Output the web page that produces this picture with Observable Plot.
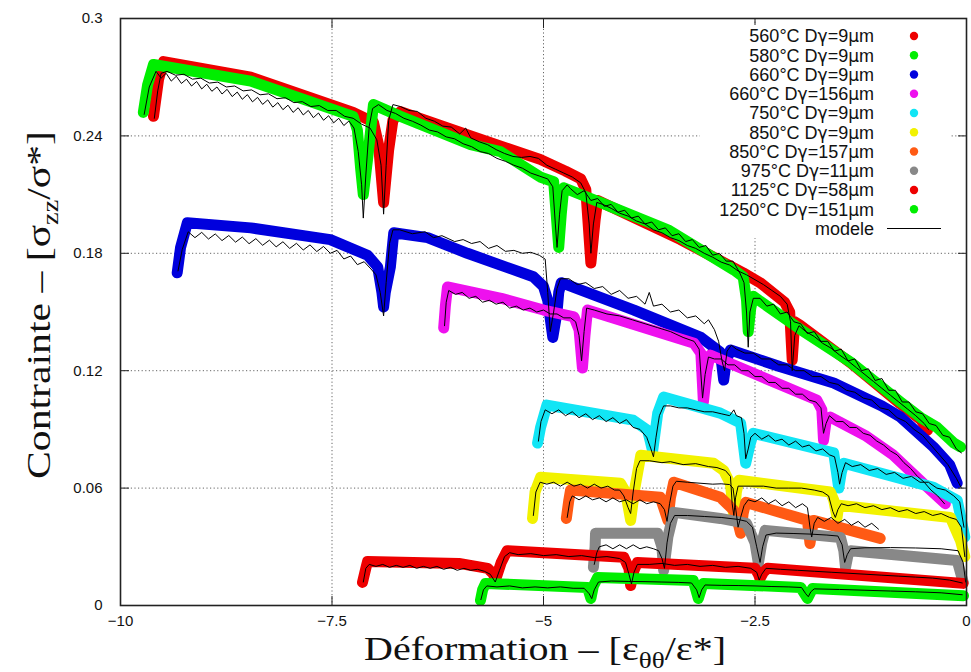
<!DOCTYPE html>
<html><head><meta charset="utf-8">
<script src="https://cdn.jsdelivr.net/npm/d3@7"></script>
<script src="https://cdn.jsdelivr.net/npm/@observablehq/plot@0.6"></script>
<style>body{margin:0;background:#fff}#chart{width:971px;height:672px}</style>
</head><body><div id="chart"></div>
<script>
const names = ["560°C Dγ=9μm","580°C Dγ=9μm","660°C Dγ=9μm","660°C Dγ=156μm","750°C Dγ=9μm","850°C Dγ=9μm","850°C Dγ=157μm","975°C Dγ=11μm","1125°C Dγ=58μm","1250°C Dγ=151μm"];
const colors = ["#ee0000","#00ee00","#0000dd","#ee11ee","#11e5f5","#f2f200","#ff5a14","#888888","#ee0000","#00ee00"];
const modelName = "modele";
const xTicks = [-10,-7.5,-5,-2.5,0];
const yTicks = [0,0.06,0.12,0.18,0.24,0.3];

// experimental series [strain, stress]
const exp560 = [[-9.61,0.250],[-9.55,0.269],[-9.49,0.278],[-8.46,0.270],[-7.25,0.252],[-7.01,0.247],[-6.95,0.2355],[-6.89,0.206],[-6.83,0.233],[-6.78,0.248],[-6.69,0.2524],[-5.86,0.240],[-5.04,0.228],[-4.74,0.222],[-4.56,0.218],[-4.50,0.2125],[-4.44,0.175],[-4.39,0.197],[-4.36,0.207],[-3.38,0.187],[-2.64,0.170],[-2.44,0.165],[-2.15,0.155],[-2.09,0.150],[-2.06,0.1255],[-2.03,0.145],[-1.96,0.143],[-1.37,0.124],[-0.78,0.103],[-0.54,0.095],[-0.46,0.0896]];
const exp580 = [[-9.73,0.252],[-9.68,0.266],[-9.61,0.2765],[-8.46,0.268],[-7.25,0.250],[-7.20,0.243],[-7.16,0.2227],[-7.13,0.210],[-7.08,0.228],[-7.01,0.256],[-6.69,0.250],[-5.86,0.2355],[-5.51,0.232],[-5.04,0.219],[-4.88,0.2166],[-4.85,0.200],[-4.82,0.183],[-4.79,0.200],[-4.76,0.2135],[-4.33,0.206],[-3.53,0.192],[-2.75,0.1715],[-2.64,0.168],[-2.60,0.156],[-2.58,0.140],[-2.55,0.152],[-2.52,0.158],[-1.96,0.141],[-1.37,0.1244],[-0.78,0.104],[-0.54,0.096],[-0.35,0.0911],[-0.15,0.083],[-0.07,0.081]];
const exp660a = [[-9.33,0.170],[-9.29,0.183],[-9.21,0.1956],[-8.46,0.193],[-7.52,0.187],[-7.08,0.179],[-6.96,0.173],[-6.91,0.160],[-6.89,0.1526],[-6.87,0.160],[-6.81,0.173],[-6.77,0.1905],[-6.37,0.188],[-5.90,0.180],[-5.12,0.168],[-5.00,0.163],[-4.95,0.156],[-4.89,0.137],[-4.84,0.150],[-4.82,0.160],[-4.79,0.165],[-3.93,0.151],[-3.14,0.137],[-2.91,0.1295],[-2.87,0.1152],[-2.84,0.125],[-2.79,0.1306],[-2.20,0.122],[-1.57,0.1137],[-1.00,0.102],[-0.78,0.0963],[-0.39,0.081],[-0.20,0.072],[-0.11,0.0625]];
const exp660b = [[-6.18,0.1418],[-6.16,0.153],[-6.135,0.1628],[-5.50,0.157],[-5.00,0.151],[-4.64,0.1475],[-4.58,0.141],[-4.54,0.1214],[-4.51,0.138],[-4.48,0.151],[-3.22,0.134],[-3.14,0.129],[-3.11,0.104],[-3.07,0.120],[-3.03,0.128],[-2.35,0.1156],[-1.77,0.105],[-1.71,0.100],[-1.69,0.0845],[-1.66,0.094],[-1.61,0.0963],[-1.20,0.087],[-0.87,0.077],[-0.50,0.062],[-0.25,0.052]];
const exp750 = [[-5.07,0.083],[-5.035,0.091],[-4.96,0.1024],[-3.94,0.0947],[-3.77,0.0896],[-3.71,0.079],[-3.65,0.0983],[-3.58,0.1065],[-2.91,0.0983],[-2.67,0.0932],[-2.61,0.0727],[-2.56,0.082],[-2.52,0.088],[-1.57,0.078],[-1.51,0.060],[-1.48,0.068],[-1.45,0.0727],[-0.39,0.0604],[-0.11,0.0538],[-0.02,0.035]];
const exp850a = [[-5.13,0.0445],[-5.10,0.058],[-5.035,0.0655],[-4.09,0.0625],[-4.03,0.058],[-3.97,0.0435],[-3.92,0.060],[-3.85,0.0768],[-2.99,0.0727],[-2.87,0.069],[-2.79,0.062],[-2.75,0.045],[-2.72,0.058],[-2.69,0.064],[-1.61,0.058],[-1.57,0.054],[-1.53,0.045],[-1.51,0.0512],[-0.19,0.045],[-0.07,0.033],[-0.02,0.025]];
const exp850b = [[-4.73,0.0445],[-4.70,0.054],[-4.68,0.059],[-3.62,0.0553],[-3.58,0.050],[-3.53,0.0435],[-3.50,0.055],[-3.46,0.063],[-2.91,0.0553],[-2.75,0.0486],[-2.71,0.044],[-2.67,0.0369],[-2.64,0.047],[-2.61,0.0527],[-1.88,0.0435],[-1.85,0.0317],[-1.81,0.0435],[-1.02,0.0343]];
const exp975 = [[-4.41,0.0195],[-4.39,0.030],[-4.385,0.0369],[-3.65,0.0369],[-3.60,0.030],[-3.58,0.018],[-3.53,0.035],[-3.46,0.0476],[-2.91,0.0445],[-2.60,0.042],[-2.50,0.032],[-2.46,0.0215],[-2.42,0.032],[-2.38,0.0384],[-1.49,0.0348],[-1.45,0.028],[-1.43,0.0195],[-1.40,0.026],[-1.37,0.028],[-0.11,0.023],[-0.04,0.012]];
const exp1125 = [[-7.14,0.0118],[-7.10,0.019],[-7.08,0.0225],[-6.00,0.0215],[-5.66,0.019],[-5.59,0.016],[-5.57,0.0128],[-5.50,0.022],[-5.43,0.028],[-4.05,0.0246],[-3.99,0.019],[-3.97,0.0102],[-3.93,0.018],[-3.89,0.022],[-2.50,0.019],[-2.46,0.016],[-2.44,0.0138],[-2.40,0.017],[-2.35,0.019],[-0.04,0.0113]];
const exp1250 = [[-5.745,0.0026],[-5.72,0.008],[-5.686,0.0113],[-4.48,0.0092],[-4.44,0.0036],[-4.41,0.010],[-4.36,0.0143],[-3.23,0.0128],[-3.17,0.0036],[-3.13,0.009],[-3.11,0.0113],[-1.96,0.0092],[-1.88,0.0036],[-1.82,0.0087],[-0.035,0.005]];

// model curves
const mod560 = [[-9.60,0.249],[-9.56,0.263],[-9.52,0.272],[-9.45,0.273],[-9.35,0.271],[-9.25,0.2715],[-9.15,0.269],[-9.05,0.2695],[-8.95,0.267],[-8.85,0.2675],[-8.75,0.265],[-8.65,0.2655],[-8.55,0.263],[-8.45,0.2635],[-8.35,0.261],[-8.25,0.2615],[-8.15,0.259],[-8.05,0.2595],[-7.95,0.257],[-7.85,0.2575],[-7.75,0.255],[-7.65,0.2555],[-7.55,0.253],[-7.45,0.253],[-7.35,0.250],[-7.25,0.249],[-7.15,0.246],[-7.05,0.244],[-6.97,0.238],[-6.92,0.225],[-6.89,0.200],[-6.86,0.225],[-6.83,0.248],[-6.78,0.256],[-6.69,0.255],[-6.59,0.253],[-6.49,0.2525],[-6.39,0.249],[-6.29,0.2475],[-6.19,0.245],[-6.09,0.2445],[-5.99,0.241],[-5.92,0.244],[-5.86,0.239],[-5.76,0.237],[-5.66,0.2355],[-5.56,0.233],[-5.46,0.231],[-5.36,0.2295],[-5.26,0.229],[-5.16,0.2295],[-5.06,0.2285],[-4.96,0.225],[-4.86,0.223],[-4.76,0.221],[-4.66,0.219],[-4.56,0.216],[-4.50,0.211],[-4.46,0.195],[-4.44,0.180],[-4.41,0.195],[-4.37,0.206],[-4.30,0.205],[-4.20,0.203],[-4.10,0.2005],[-4.00,0.199],[-3.90,0.1965],[-3.80,0.195],[-3.70,0.192],[-3.60,0.1905],[-3.50,0.188],[-3.40,0.1865],[-3.30,0.184],[-3.20,0.1825],[-3.10,0.180],[-3.00,0.178],[-2.90,0.1755],[-2.80,0.174],[-2.70,0.171],[-2.60,0.169],[-2.50,0.1665],[-2.40,0.164],[-2.30,0.161],[-2.20,0.158],[-2.12,0.154],[-2.08,0.145],[-2.06,0.120],[-2.03,0.138],[-1.98,0.143],[-1.90,0.140],[-1.80,0.1375],[-1.70,0.134],[-1.60,0.1315],[-1.50,0.128],[-1.40,0.125],[-1.30,0.1215],[-1.20,0.118],[-1.10,0.1145],[-1.00,0.111],[-0.90,0.1075],[-0.80,0.104],[-0.70,0.1005],[-0.60,0.097],[-0.50,0.093],[-0.45,0.090]];
const mod580 = [[-9.72,0.251],[-9.66,0.265],[-9.58,0.273],[-9.52,0.2695],[-9.46,0.272],[-9.40,0.268],[-9.34,0.2705],[-9.28,0.2668],[-9.22,0.269],[-9.16,0.2655],[-9.10,0.2678],[-9.04,0.264],[-8.98,0.2664],[-8.92,0.2628],[-8.86,0.265],[-8.80,0.2614],[-8.74,0.2638],[-8.68,0.2601],[-8.62,0.2624],[-8.56,0.2587],[-8.50,0.2611],[-8.44,0.2574],[-8.38,0.2597],[-8.32,0.2561],[-8.26,0.2584],[-8.20,0.2547],[-8.14,0.257],[-8.08,0.2534],[-8.02,0.2557],[-7.96,0.252],[-7.90,0.2544],[-7.84,0.2507],[-7.78,0.253],[-7.72,0.2493],[-7.66,0.2517],[-7.60,0.248],[-7.54,0.2503],[-7.48,0.2467],[-7.42,0.249],[-7.36,0.2453],[-7.30,0.2476],[-7.24,0.244],[-7.19,0.232],[-7.15,0.215],[-7.13,0.198],[-7.10,0.220],[-7.06,0.245],[-7.02,0.254],[-6.95,0.256],[-6.85,0.253],[-6.75,0.2515],[-6.65,0.249],[-6.55,0.2475],[-6.45,0.2455],[-6.35,0.243],[-6.25,0.242],[-6.15,0.2395],[-6.05,0.2385],[-5.95,0.236],[-5.85,0.2345],[-5.75,0.232],[-5.65,0.231],[-5.55,0.2285],[-5.45,0.227],[-5.35,0.225],[-5.25,0.2235],[-5.15,0.221],[-5.05,0.2195],[-4.95,0.218],[-4.89,0.214],[-4.86,0.195],[-4.84,0.183],[-4.81,0.200],[-4.78,0.212],[-4.72,0.215],[-4.68,0.213],[-4.60,0.210],[-4.52,0.212],[-4.44,0.207],[-4.36,0.208],[-4.28,0.204],[-4.20,0.205],[-4.12,0.201],[-4.04,0.202],[-3.96,0.198],[-3.88,0.199],[-3.80,0.195],[-3.72,0.196],[-3.64,0.192],[-3.56,0.193],[-3.48,0.189],[-3.40,0.190],[-3.32,0.186],[-3.24,0.187],[-3.16,0.183],[-3.08,0.184],[-3.00,0.179],[-2.92,0.180],[-2.84,0.176],[-2.76,0.176],[-2.68,0.170],[-2.63,0.165],[-2.60,0.150],[-2.58,0.132],[-2.56,0.150],[-2.52,0.157],[-2.44,0.157],[-2.36,0.153],[-2.28,0.154],[-2.20,0.149],[-2.12,0.150],[-2.04,0.145],[-1.96,0.144],[-1.88,0.139],[-1.80,0.140],[-1.72,0.135],[-1.64,0.135],[-1.56,0.130],[-1.48,0.131],[-1.40,0.125],[-1.32,0.126],[-1.24,0.120],[-1.16,0.121],[-1.08,0.115],[-1.00,0.116],[-0.92,0.110],[-0.84,0.110],[-0.76,0.104],[-0.68,0.104],[-0.60,0.099],[-0.52,0.098],[-0.44,0.093],[-0.36,0.092],[-0.28,0.087],[-0.20,0.086],[-0.12,0.080],[-0.06,0.078]];
const mod660a = [[-9.32,0.171],[-9.27,0.182],[-9.20,0.191],[-9.12,0.188],[-9.04,0.1907],[-8.96,0.1873],[-8.88,0.1899],[-8.80,0.1865],[-8.72,0.1891],[-8.64,0.1857],[-8.56,0.1883],[-8.48,0.1849],[-8.40,0.1875],[-8.32,0.1841],[-8.24,0.1867],[-8.16,0.1833],[-8.08,0.1859],[-8.00,0.1825],[-7.92,0.1851],[-7.84,0.1817],[-7.76,0.1843],[-7.68,0.1809],[-7.60,0.1835],[-7.52,0.180],[-7.44,0.1815],[-7.36,0.1771],[-7.28,0.1786],[-7.20,0.1742],[-7.12,0.1757],[-7.04,0.172],[-6.98,0.169],[-6.93,0.160],[-6.89,0.148],[-6.86,0.165],[-6.82,0.185],[-6.78,0.192],[-6.70,0.192],[-6.55,0.190],[-6.40,0.191],[-6.30,0.188],[-6.20,0.189],[-6.05,0.186],[-5.95,0.187],[-5.85,0.185],[-5.75,0.186],[-5.65,0.1825],[-5.55,0.184],[-5.45,0.181],[-5.35,0.1815],[-5.25,0.180],[-5.15,0.1805],[-5.05,0.179],[-4.98,0.177],[-4.95,0.160],[-4.92,0.140],[-4.88,0.150],[-4.84,0.162],[-4.80,0.167],[-4.70,0.167],[-4.60,0.164],[-4.50,0.165],[-4.40,0.162],[-4.30,0.163],[-4.20,0.159],[-4.10,0.161],[-4.00,0.157],[-3.90,0.158],[-3.80,0.154],[-3.75,0.160],[-3.70,0.153],[-3.60,0.154],[-3.50,0.150],[-3.40,0.151],[-3.30,0.147],[-3.20,0.148],[-3.10,0.144],[-3.05,0.146],[-2.98,0.141],[-2.93,0.135],[-2.89,0.125],[-2.86,0.120],[-2.83,0.130],[-2.78,0.133],[-2.72,0.131],[-2.62,0.129],[-2.52,0.129],[-2.42,0.126],[-2.32,0.126],[-2.22,0.123],[-2.12,0.123],[-2.02,0.120],[-1.92,0.120],[-1.82,0.117],[-1.72,0.117],[-1.62,0.114],[-1.52,0.113],[-1.42,0.110],[-1.32,0.109],[-1.22,0.106],[-1.12,0.105],[-1.02,0.101],[-0.92,0.100],[-0.82,0.096],[-0.72,0.094],[-0.62,0.090],[-0.52,0.087],[-0.42,0.082],[-0.32,0.077],[-0.22,0.072],[-0.12,0.065],[-0.06,0.060]];
const mod660b = [[-6.17,0.143],[-6.15,0.155],[-6.12,0.161],[-6.04,0.159],[-5.96,0.160],[-5.88,0.157],[-5.80,0.158],[-5.72,0.155],[-5.64,0.156],[-5.56,0.154],[-5.48,0.155],[-5.40,0.152],[-5.32,0.153],[-5.24,0.151],[-5.16,0.152],[-5.08,0.150],[-5.00,0.151],[-4.92,0.149],[-4.84,0.149],[-4.76,0.147],[-4.68,0.147],[-4.62,0.145],[-4.58,0.138],[-4.55,0.125],[-4.52,0.140],[-4.49,0.152],[-4.40,0.151],[-4.25,0.149],[-4.10,0.148],[-3.95,0.146],[-3.80,0.144],[-3.65,0.142],[-3.50,0.140],[-3.35,0.137],[-3.22,0.135],[-3.16,0.131],[-3.12,0.106],[-3.09,0.118],[-3.05,0.127],[-2.98,0.126],[-2.90,0.126],[-2.82,0.123],[-2.74,0.123],[-2.66,0.120],[-2.58,0.120],[-2.50,0.117],[-2.42,0.117],[-2.34,0.114],[-2.26,0.114],[-2.18,0.111],[-2.10,0.111],[-2.02,0.108],[-1.94,0.108],[-1.86,0.105],[-1.78,0.104],[-1.72,0.101],[-1.69,0.088],[-1.66,0.093],[-1.62,0.097],[-1.54,0.094],[-1.46,0.094],[-1.38,0.091],[-1.30,0.091],[-1.22,0.088],[-1.14,0.087],[-1.06,0.084],[-0.98,0.082],[-0.90,0.079],[-0.82,0.077],[-0.74,0.073],[-0.66,0.070],[-0.58,0.066],[-0.50,0.063],[-0.42,0.059],[-0.34,0.056],[-0.26,0.052]];
const mod750 = [[-5.06,0.084],[-5.03,0.094],[-4.98,0.100],[-4.90,0.098],[-4.82,0.100],[-4.74,0.097],[-4.66,0.099],[-4.58,0.096],[-4.50,0.098],[-4.42,0.095],[-4.34,0.097],[-4.26,0.094],[-4.18,0.096],[-4.10,0.093],[-4.02,0.095],[-3.94,0.091],[-3.86,0.090],[-3.78,0.086],[-3.73,0.080],[-3.70,0.076],[-3.67,0.086],[-3.63,0.097],[-3.58,0.102],[-3.50,0.102],[-3.40,0.101],[-3.30,0.101],[-3.20,0.100],[-3.10,0.099],[-3.00,0.099],[-2.90,0.098],[-2.80,0.097],[-2.75,0.100],[-2.72,0.097],[-2.66,0.096],[-2.63,0.088],[-2.61,0.075],[-2.58,0.080],[-2.55,0.086],[-2.50,0.088],[-2.42,0.085],[-2.34,0.087],[-2.26,0.084],[-2.18,0.085],[-2.10,0.082],[-2.02,0.084],[-1.94,0.081],[-1.86,0.082],[-1.78,0.079],[-1.70,0.080],[-1.62,0.077],[-1.56,0.076],[-1.52,0.068],[-1.50,0.062],[-1.47,0.068],[-1.43,0.073],[-1.35,0.071],[-1.25,0.072],[-1.15,0.069],[-1.05,0.070],[-0.95,0.067],[-0.85,0.068],[-0.75,0.065],[-0.65,0.066],[-0.55,0.063],[-0.45,0.063],[-0.35,0.060],[-0.25,0.059],[-0.15,0.056],[-0.08,0.053],[-0.03,0.040]];
const mod850a = [[-5.12,0.046],[-5.09,0.058],[-5.04,0.063],[-4.96,0.062],[-4.88,0.063],[-4.80,0.061],[-4.72,0.063],[-4.64,0.061],[-4.56,0.062],[-4.48,0.060],[-4.40,0.062],[-4.32,0.060],[-4.24,0.061],[-4.16,0.059],[-4.10,0.059],[-4.05,0.056],[-4.00,0.050],[-3.97,0.047],[-3.94,0.058],[-3.90,0.070],[-3.86,0.074],[-3.75,0.074],[-3.60,0.073],[-3.50,0.0735],[-3.35,0.072],[-3.20,0.0725],[-3.05,0.071],[-2.95,0.0705],[-2.85,0.069],[-2.79,0.066],[-2.77,0.052],[-2.75,0.046],[-2.73,0.055],[-2.70,0.061],[-2.55,0.061],[-2.40,0.061],[-2.25,0.060],[-2.10,0.060],[-1.95,0.060],[-1.80,0.059],[-1.70,0.058],[-1.63,0.056],[-1.58,0.048],[-1.55,0.045],[-1.52,0.049],[-1.48,0.052],[-1.40,0.051],[-1.30,0.052],[-1.20,0.050],[-1.10,0.051],[-1.00,0.049],[-0.90,0.050],[-0.80,0.048],[-0.70,0.049],[-0.60,0.047],[-0.50,0.048],[-0.40,0.046],[-0.30,0.047],[-0.20,0.045],[-0.12,0.044],[-0.06,0.040],[-0.02,0.025]];
const mod850b = [[-4.72,0.045],[-4.69,0.053],[-4.66,0.056],[-4.58,0.054],[-4.50,0.056],[-4.42,0.054],[-4.34,0.055],[-4.26,0.053],[-4.18,0.055],[-4.10,0.053],[-4.02,0.054],[-3.94,0.052],[-3.86,0.054],[-3.78,0.052],[-3.70,0.053],[-3.62,0.052],[-3.57,0.049],[-3.54,0.043],[-3.51,0.052],[-3.47,0.061],[-3.43,0.0635],[-3.30,0.063],[-3.15,0.0625],[-3.00,0.062],[-2.90,0.0622],[-2.80,0.0618],[-2.76,0.060],[-2.73,0.050],[-2.70,0.040],[-2.67,0.045],[-2.63,0.051],[-2.58,0.054],[-2.50,0.053],[-2.42,0.055],[-2.34,0.052],[-2.26,0.054],[-2.18,0.051],[-2.10,0.053],[-2.02,0.050],[-1.94,0.052],[-1.88,0.050],[-1.85,0.040],[-1.83,0.035],[-1.80,0.042],[-1.76,0.045],[-1.68,0.043],[-1.60,0.045],[-1.52,0.042],[-1.44,0.044],[-1.36,0.041],[-1.28,0.043],[-1.20,0.040],[-1.12,0.042],[-1.04,0.039]];
const mod975 = [[-4.40,0.021],[-4.37,0.027],[-4.34,0.030],[-4.26,0.031],[-4.18,0.029],[-4.10,0.031],[-4.02,0.029],[-3.94,0.031],[-3.86,0.029],[-3.78,0.030],[-3.70,0.029],[-3.64,0.028],[-3.60,0.024],[-3.57,0.019],[-3.54,0.032],[-3.50,0.042],[-3.45,0.046],[-3.30,0.046],[-3.10,0.0455],[-2.90,0.045],[-2.70,0.044],[-2.60,0.043],[-2.53,0.040],[-2.48,0.030],[-2.44,0.022],[-2.41,0.030],[-2.37,0.036],[-2.25,0.037],[-2.05,0.0368],[-1.85,0.0365],[-1.65,0.036],[-1.52,0.0355],[-1.47,0.031],[-1.44,0.022],[-1.41,0.026],[-1.37,0.029],[-1.20,0.0295],[-0.90,0.0296],[-0.60,0.0294],[-0.30,0.029],[-0.10,0.028],[-0.04,0.022],[-0.01,0.012]];
const mod1125 = [[-7.13,0.012],[-7.10,0.019],[-7.06,0.021],[-6.98,0.020],[-6.90,0.021],[-6.82,0.0195],[-6.74,0.0205],[-6.66,0.0195],[-6.58,0.0205],[-6.50,0.019],[-6.42,0.020],[-6.34,0.019],[-6.26,0.020],[-6.18,0.0185],[-6.10,0.0195],[-6.02,0.018],[-5.94,0.019],[-5.86,0.018],[-5.78,0.0185],[-5.70,0.0175],[-5.63,0.016],[-5.57,0.012],[-5.52,0.018],[-5.46,0.025],[-5.40,0.027],[-5.30,0.026],[-5.15,0.0265],[-5.00,0.0255],[-4.85,0.026],[-4.70,0.025],[-4.55,0.0255],[-4.40,0.0245],[-4.25,0.025],[-4.10,0.024],[-4.03,0.022],[-3.99,0.016],[-3.96,0.011],[-3.93,0.017],[-3.89,0.021],[-3.75,0.021],[-3.60,0.0215],[-3.45,0.0205],[-3.30,0.021],[-3.15,0.020],[-3.00,0.0205],[-2.85,0.0195],[-2.70,0.020],[-2.55,0.019],[-2.48,0.017],[-2.45,0.013],[-2.42,0.016],[-2.37,0.019],[-2.20,0.0185],[-2.00,0.018],[-1.80,0.0175],[-1.60,0.017],[-1.40,0.0165],[-1.20,0.016],[-1.00,0.0155],[-0.80,0.015],[-0.60,0.0145],[-0.40,0.014],[-0.20,0.013],[-0.05,0.0115]];
const mod1250 = [[-5.74,0.003],[-5.71,0.008],[-5.67,0.010],[-5.55,0.0095],[-5.40,0.010],[-5.25,0.009],[-5.10,0.0095],[-4.95,0.009],[-4.80,0.0095],[-4.65,0.0088],[-4.52,0.0088],[-4.46,0.006],[-4.43,0.0035],[-4.40,0.008],[-4.35,0.012],[-4.20,0.0125],[-4.00,0.0123],[-3.80,0.0122],[-3.60,0.012],[-3.40,0.0118],[-3.25,0.0115],[-3.19,0.008],[-3.16,0.004],[-3.13,0.008],[-3.09,0.0105],[-2.90,0.0103],[-2.70,0.0102],[-2.50,0.010],[-2.30,0.0097],[-2.10,0.0095],[-1.95,0.0092],[-1.90,0.006],[-1.87,0.0045],[-1.84,0.007],[-1.80,0.0085],[-1.50,0.0082],[-1.20,0.0078],[-0.90,0.0074],[-0.60,0.007],[-0.30,0.0065],[-0.05,0.0055]];

const expSeries = [exp560,exp580,exp660a,exp660b,exp750,exp850a,exp850b,exp975,exp1125,exp1250];
const modelSeries = [mod560,mod580,mod660a,mod660b,mod750,mod850a,mod850b,mod975,mod1125,mod1250];

const fmtX = d => d < 0 ? "\u2212" + (-d) : String(d);
const fmtY = d => String(d);
const noText = () => "";
const gridStyle = {stroke:"#666", strokeOpacity:1, strokeWidth:1, strokeDasharray:"1.2,2.4"};

const svg = Plot.plot({
  width: 971, height: 672,
  marginLeft: 120, marginRight: 5, marginTop: 18, marginBottom: 67,
  style: {fontFamily: "'Liberation Sans', Arial, sans-serif", fontSize: "15px", color: "#111", background: "#fff"},
  x: {domain: [-10, 0]},
  y: {domain: [0, 0.3]},
  marks: [
    Plot.gridX(xTicks.slice(1, -1), gridStyle),
    Plot.gridY(yTicks.slice(1, -1), gridStyle),
    ...expSeries.map((s, i) => Plot.line(s, {x: d => d[0], y: d => d[1], stroke: colors[i], strokeWidth: 11, strokeLinecap: "round", strokeLinejoin: "round"})),
    ...modelSeries.map(s => Plot.line(s, {x: d => d[0], y: d => d[1], stroke: "#000", strokeWidth: 1})),
    Plot.axisX({ticks: xTicks, tickSize: 0, tickPadding: 10, tickFormat: fmtX, label: null, fontSize: 15}),
    Plot.axisY({ticks: yTicks, tickSize: 0, tickPadding: 18, tickFormat: fmtY, label: null, fontSize: 15}),
    Plot.axisX({ticks: xTicks, anchor: "bottom", tickSize: -9, tickFormat: noText, label: null, stroke: "#222"}),
    Plot.axisX({ticks: xTicks, anchor: "top", tickSize: -9, tickFormat: noText, label: null, stroke: "#222"}),
    Plot.axisY({ticks: yTicks, anchor: "left", tickSize: -9, tickFormat: noText, label: null, stroke: "#222"}),
    Plot.axisY({ticks: yTicks, anchor: "right", tickSize: -9, tickFormat: noText, label: null, stroke: "#222"}),
    Plot.frame({stroke: "#222", strokeWidth: 1.6})
  ]
});
document.getElementById("chart").appendChild(svg);

const root = d3.select(svg);
// legend (opaque key box as in the original)
const key = root.append("g").attr("font-family", "'Liberation Sans', Arial, sans-serif").attr("font-size", 18).attr("fill", "#111");
key.append("rect").attr("x", 700).attr("y", 25).attr("width", 251).attr("height", 213).attr("fill", "#fff");
function addLabel(n, yy) {
  const t = key.append("text").attr("x", 874).attr("y", yy).attr("dy", "0.36em").attr("text-anchor", "end");
  for (const part of n.split(/([γμ])/)) {
    if (!part) continue;
    const sp = t.append("tspan").text(part);
    if (part === "γ" || part === "μ") sp.attr("font-family", "'DejaVu Sans', sans-serif").attr("font-size", 17);
  }
}
names.forEach((n, i) => {
  const yy = 36 + i * 19.25;
  addLabel(n, yy);
  key.append("circle").attr("cx", 914).attr("cy", yy).attr("r", 4.2).attr("fill", colors[i]);
});
const ym = 36 + names.length * 19.25;
addLabel(modelName, ym);
key.append("line").attr("x1", 887).attr("x2", 941).attr("y1", ym).attr("y2", ym).attr("stroke", "#000").attr("stroke-width", 1.2);

// axis titles
const serif = "'Liberation Serif', 'Times New Roman', serif";
const xl = root.append("text").attr("x", 545).attr("y", 660).attr("text-anchor", "middle")
  .attr("font-family", serif).attr("font-size", 34).attr("fill", "#111")
  .attr("textLength", 362).attr("lengthAdjust", "spacingAndGlyphs");
xl.append("tspan").text("Déformation – [ε");
xl.append("tspan").attr("font-size", 23).attr("dy", 8).text("θθ");
xl.append("tspan").attr("dy", -8).text("/ε*]");

const yl = root.append("text").attr("transform", "translate(50,305) rotate(-90)").attr("text-anchor", "middle")
  .attr("font-family", serif).attr("font-size", 34).attr("fill", "#111")
  .attr("textLength", 348).attr("lengthAdjust", "spacingAndGlyphs");
yl.append("tspan").text("Contrainte – [σ");
yl.append("tspan").attr("font-size", 23).attr("dy", 8).text("zz");
yl.append("tspan").attr("dy", -8).text("/σ*]");
</script></body></html>
